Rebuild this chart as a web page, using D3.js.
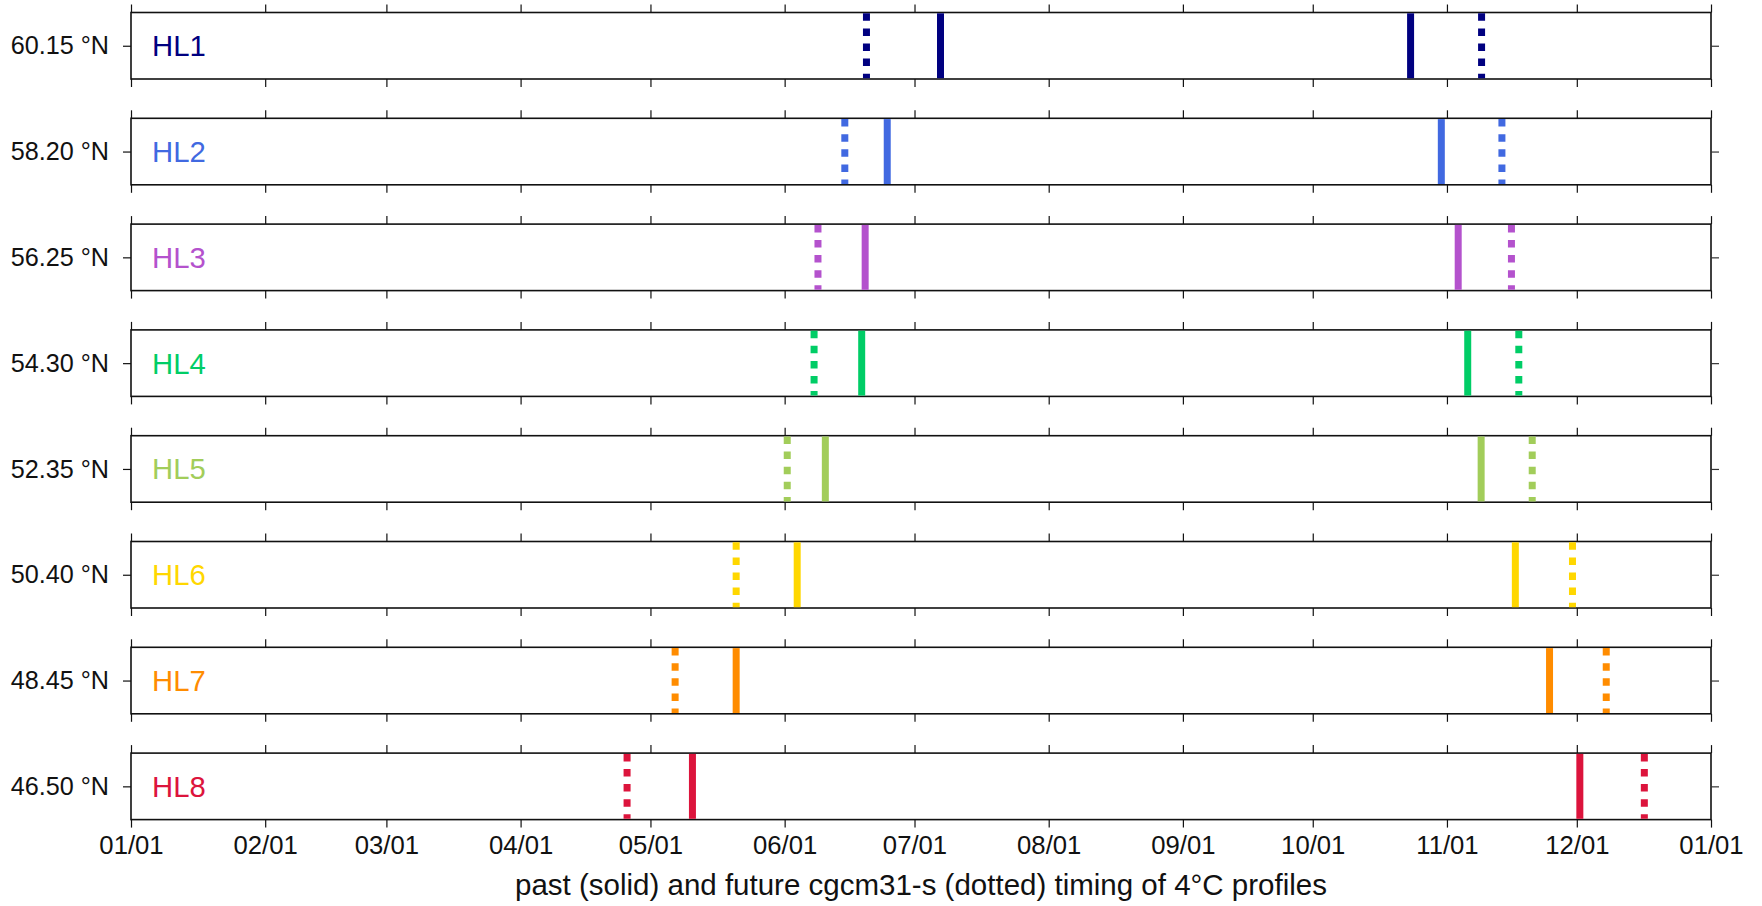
<!DOCTYPE html>
<html>
<head>
<meta charset="utf-8">
<script src="https://cdn.jsdelivr.net/npm/d3@7"></script>
<style>
  html, body { margin: 0; padding: 0; background: #fff; }
  svg { display: block; font-family: "Liberation Sans", Arial, Helvetica, sans-serif; }
</style>
</head>
<body>
<svg id="chart" width="1762" height="906"></svg>
<script>
// ---- data (day of year, 0 = Jan 1) ----
const stations = ["HL1", "HL2", "HL3", "HL4", "HL5", "HL6", "HL7", "HL8"];
const latitudes = ["60.15 °N", "58.20 °N", "56.25 °N", "54.30 °N", "52.35 °N", "50.40 °N", "48.45 °N", "46.50 °N"];
const colors = ["#000080", "#4169E1", "#B452CD", "#00CD66", "#A2CD5A", "#FFD700", "#FF8C00", "#DC143C"];
// past (solid): start and end of 4°C profile period
const pastStart = [187.0, 174.7, 169.6, 168.8, 160.4, 153.9, 139.8, 129.7];
const pastEnd   = [295.6, 302.7, 306.6, 308.8, 311.9, 319.8, 327.7, 334.7];
// future cgcm31-s (dotted)
const futureStart = [169.9, 164.9, 158.7, 157.8, 151.6, 139.8, 125.7, 114.6];
const futureEnd   = [312.0, 316.7, 318.9, 320.6, 323.7, 333.0, 340.8, 349.6];
const xTitle = "past (solid) and future cgcm31-s (dotted) timing of 4°C profiles";

// ---- layout ----
const left = 131, right = 1711;
const top0 = 12.5, pitch = 105.8, panelH = 66.5;
const tickLen = 8;

const t0 = Date.UTC(2001, 0, 1);
const dayToDate = d => new Date(t0 + d * 864e5);
const x = d3.scaleUtc()
  .domain([new Date(Date.UTC(2001, 0, 1)), new Date(Date.UTC(2002, 0, 1))])
  .range([left, right]);
const monthTicks = d3.utcMonth.range(new Date(Date.UTC(2001, 0, 1)), new Date(Date.UTC(2002, 0, 2)));

const svg = d3.select("#chart");

stations.forEach((name, i) => {
  const y0 = top0 + i * pitch;
  const g = svg.append("g");
  const y = d3.scalePoint().domain([latitudes[i]]).range([y0 + panelH / 2, y0 + panelH / 2]);

  // frame
  g.append("rect")
    .attr("x", left).attr("y", y0)
    .attr("width", right - left).attr("height", panelH)
    .attr("fill", "#fff").attr("stroke", "#111").attr("stroke-width", 1.6);

  // top axis ticks
  const topAx = d3.axisTop(x).tickValues(monthTicks).tickSize(tickLen).tickFormat("");
  g.append("g").attr("transform", `translate(0,${y0})`).call(topAx)
    .call(s => s.select(".domain").remove())
    .call(s => s.selectAll("line").attr("stroke", "#111").attr("stroke-width", 1.2));

  // bottom axis ticks (labels only on last)
  const last = i === stations.length - 1;
  const botAx = d3.axisBottom(x).tickValues(monthTicks).tickSize(tickLen)
    .tickPadding(8)
    .tickFormat(last ? d3.utcFormat("%m/%d") : "");
  const bg = g.append("g").attr("transform", `translate(0,${y0 + panelH})`).call(botAx)
    .call(s => s.select(".domain").remove())
    .call(s => s.selectAll("line").attr("stroke", "#111").attr("stroke-width", 1.2));
  bg.selectAll("text").attr("font-size", 25.7).attr("fill", "#111")
    .attr("font-family", "'Liberation Sans', Arial, sans-serif");

  // left y axis
  const lAx = d3.axisLeft(y).tickSize(tickLen).tickPadding(14);
  const lg = g.append("g").attr("transform", `translate(${left},0)`).call(lAx)
    .call(s => s.select(".domain").remove())
    .call(s => s.selectAll("line").attr("stroke", "#111").attr("stroke-width", 1.2));
  lg.selectAll("text").attr("font-size", 25.2).attr("fill", "#111")
    .attr("font-family", "'Liberation Sans', Arial, sans-serif");

  // right y axis (ticks only)
  const rAx = d3.axisRight(y).tickSize(tickLen).tickFormat("");
  g.append("g").attr("transform", `translate(${right},0)`).call(rAx)
    .call(s => s.select(".domain").remove())
    .call(s => s.selectAll("line").attr("stroke", "#333").attr("stroke-width", 1.2));

  // station label
  g.append("text")
    .attr("x", left + 21).attr("y", y0 + panelH / 2)
    .attr("dy", "0.36em")
    .attr("font-size", 29.3)
    .attr("fill", colors[i])
    .text(name);

  // past solid lines
  g.selectAll("line.past").data([pastStart[i], pastEnd[i]]).join("line")
    .attr("class", "past")
    .attr("x1", d => x(dayToDate(d))).attr("x2", d => x(dayToDate(d)))
    .attr("y1", y0 + 0.8).attr("y2", y0 + panelH - 0.8)
    .attr("stroke", colors[i]).attr("stroke-width", 7);

  // future dotted lines
  g.selectAll("line.future").data([futureStart[i], futureEnd[i]]).join("line")
    .attr("class", "future")
    .attr("x1", d => x(dayToDate(d))).attr("x2", d => x(dayToDate(d)))
    .attr("y1", y0 + 0.8).attr("y2", y0 + panelH - 0.8)
    .attr("stroke", colors[i]).attr("stroke-width", 7)
    .attr("stroke-dasharray", "7.5,7.6");
});

// x title
svg.append("text")
  .attr("x", (left + right) / 2).attr("y", 895)
  .attr("text-anchor", "middle")
  .attr("font-size", 29.5).attr("fill", "#111")
  .text(xTitle);
</script>
</body>
</html>
